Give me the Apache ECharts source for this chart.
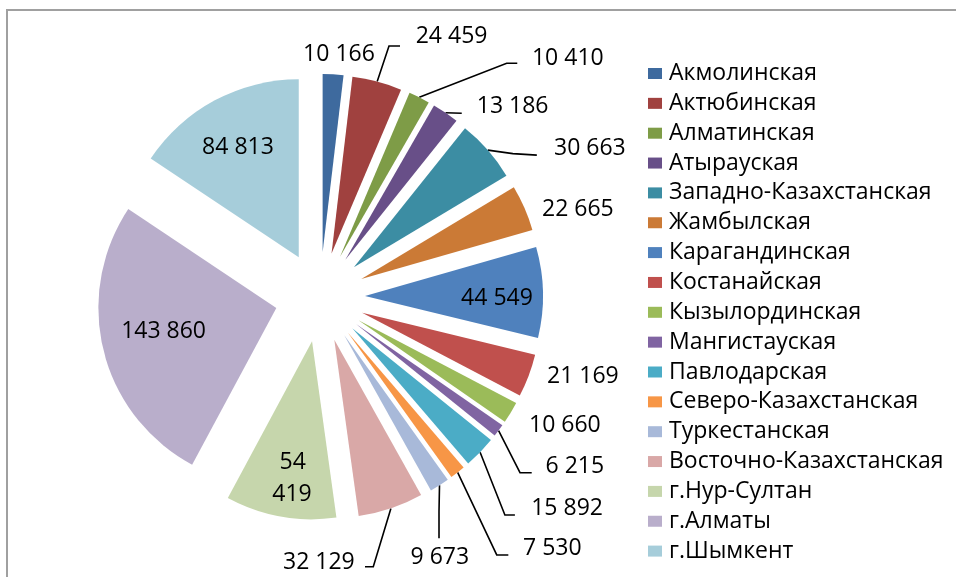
<!DOCTYPE html>
<html><head><meta charset="utf-8">
<script src="https://cdn.jsdelivr.net/npm/echarts@6/dist/echarts.min.js"></script>
<style>html,body{margin:0;padding:0;background:#fff}#c{width:956px;height:577px}</style>
</head><body><div id="c"></div>
<script>
const regions = ['Акмолинская','Актюбинская','Алматинская','Атырауская','Западно-Казахстанская','Жамбылская','Карагандинская','Костанайская','Кызылординская','Мангистауская','Павлодарская','Северо-Казахстанская','Туркестанская','Восточно-Казахстанская','г.Нур-Султан','г.Алматы','г.Шымкент'];
const values = [10166,24459,10410,13186,30663,22665,44549,21169,10660,6215,15892,7530,9673,32129,54419,143860,84813];
const colors = ['#3E6A9E','#A0413F','#7E9C47','#684F88','#3C8DA3','#CB7A36','#4F81BD','#C0504D','#9BBB59','#8064A2','#4BACC6','#F79646','#A8B9D9','#D9A8A7','#C6D6AC','#B9AECB','#A6CDDA'];

// label placement: text offset from the library's default label anchor, leader line bends relative to slice edge point
const labelPlacement = {
  'Акмолинская': {text:[-30,-20.4]},
  'Актюбинская': {text:[38.5,-44.8], line:[[11.8,-35.5],[22.8,-35.5]]},
  'Алматинская': {text:[112.7,-39], line:[[87.4,-34],[98,-34]]},
  'Атырауская': {text:[31.2,-6], line:[[8,0.3],[16.2,0.6]]},
  'Западно-Казахстанская': {text:[66.2,-1.8], line:[[25,3.5],[49,5]]},
  'Жамбылская': {text:[17.5,1]},
  'Карагандинская': {inside:true, text:[40,3.8]},
  'Костанайская': {text:[18.3,0.5]},
  'Кызылординская': {text:[18.2,13.1]},
  'Мангистауская': {text:[46.9,35.5], line:[[21.4,42.2],[33.1,42.2]]},
  'Павлодарская': {text:[51.1,55.8], line:[[24.8,62.8],[34.8,62.8]]},
  'Северо-Казахстанская': {text:[65.4,75.5], line:[[39.1,82.5],[50.7,82.5]]},
  'Туркестанская': {text:[-29,71.7], line:[[-0.5,26],[-0.5,53]]},
  'Восточно-Казахстанская': {text:[-107.9,53.6], line:[[-17.6,58.3],[-25.9,58.3]]},
  'г.Нур-Султан': {inside:true, text:[16,47.1], wrap:true, align:'right'},
  'г.Алматы': {inside:true, text:[-23.5,1.6]},
  'г.Шымкент': {inside:true, text:[-17.4,-28.8]}
};

function fmt(v){ return String(v).replace(/\B(?=(\d{3})+(?!\d))/g,' '); }

const data = regions.map(function(n,i){
  const p = labelPlacement[n] || {};
  const item = {name:n, value:values[i], selected:true, labelLine:{show: !!p.line}};
  if (p.inside) {
    item.label = {position:'inside'};
    if (p.wrap) { item.label.width = 48; item.label.overflow = 'break'; item.label.lineHeight = 32; }
  }
  return item;
});

const chart = echarts.init(document.getElementById('c'));
chart.setOption({
  animation:false,
  color: colors,
  graphic:[{type:'rect', shape:{x:7, y:10, width:1400, height:1400}, style:{fill:'none', stroke:'#a0a0a0', lineWidth:2}, silent:true}],
  legend:{
    orient:'vertical', left:648, top:62, padding:0, itemWidth:14, itemHeight:11, itemGap:6.85,
    icon:'rect', selectedMode:false, data: regions,
    textStyle:{fontFamily:'Open Sans', fontSize:23, lineHeight:23, color:'#000', padding:[0,0,0,2]}
  },
  series:[{
    type:'pie', center:[320,297], radius:178, startAngle:90, clockwise:true,
    selectedMode:'multiple', selectedOffset:45, avoidLabelOverlap:false,
    emphasis:{disabled:true}, silent:true,
    label:{show:true, position:'outside', distanceToLabelLine:0, color:'#000', fontFamily:'Open Sans', fontSize:23,
      formatter:function(p){ return fmt(p.value); }},
    labelLine:{show:true, length:0, length2:0, smooth:false, lineStyle:{color:'#000', width:1.6}},
    labelLayout:function(p){
      const t = labelPlacement[regions[p.dataIndex]];
      if (!t) return {};
      const res = {dx:t.text[0], dy:t.text[1]};
      if (t.align) res.align = t.align;
      if (t.line && p.labelLinePoints && p.labelLinePoints.length) {
        const a = p.labelLinePoints[0];
        res.labelLinePoints = [[a[0],a[1]],[a[0]+t.line[0][0],a[1]+t.line[0][1]],[a[0]+t.line[1][0],a[1]+t.line[1][1]]];
      }
      return res;
    },
    data:data
  }]
});
</script>
</body></html>
